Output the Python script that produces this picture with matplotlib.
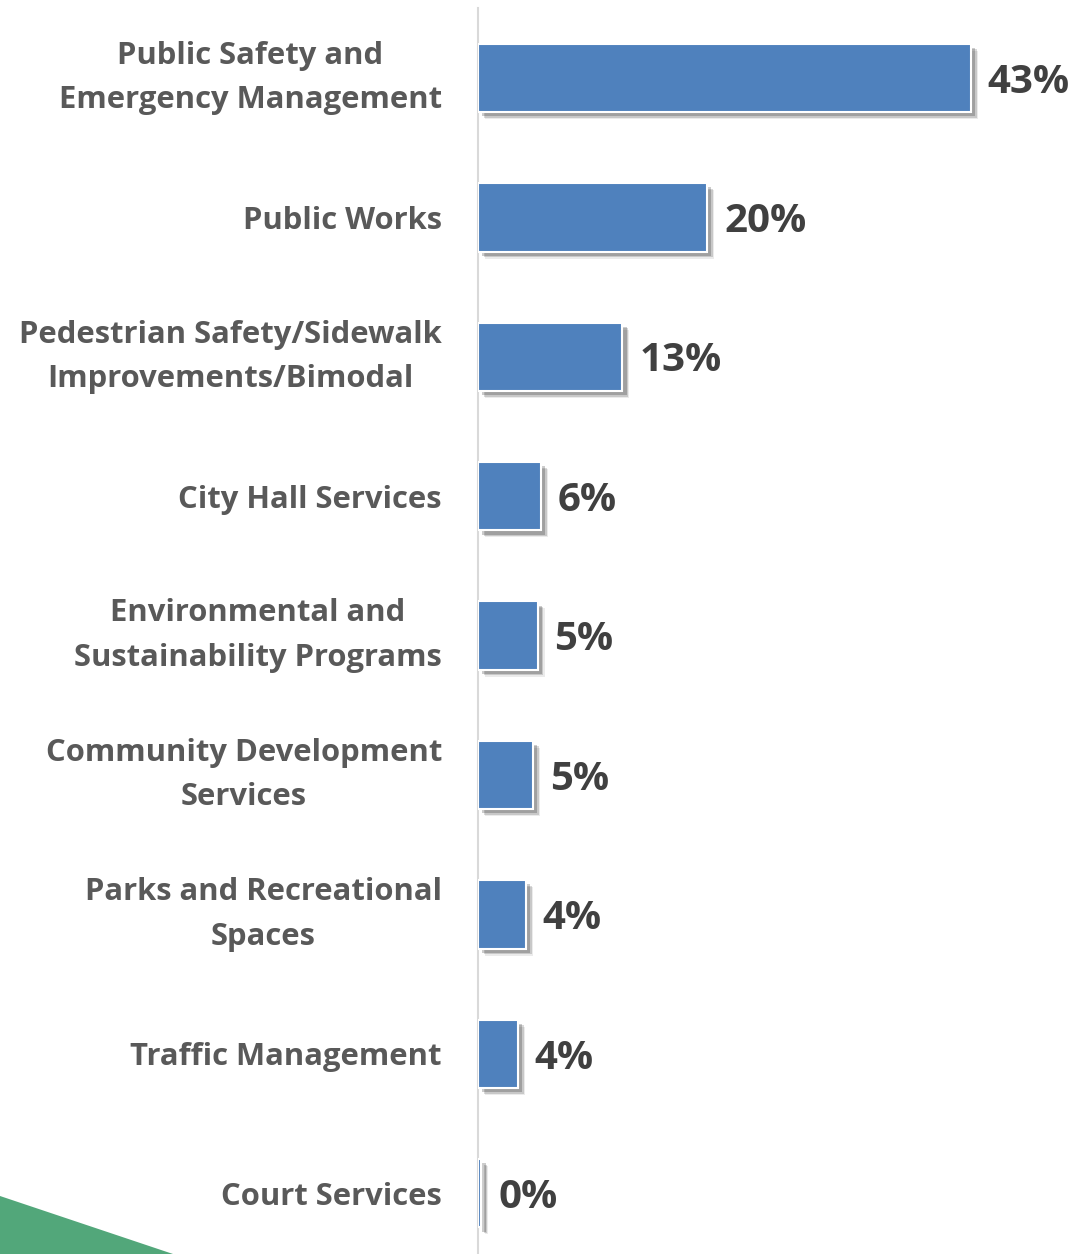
import matplotlib
matplotlib.use('Agg')
import matplotlib.pyplot as plt
import matplotlib.patheffects as pe
from matplotlib.patches import Polygon

categories = [
    "Public Safety and\nEmergency Management",
    "Public Works",
    "Pedestrian Safety/Sidewalk\nImprovements/Bimodal",
    "City Hall Services",
    "Environmental and\nSustainability Programs",
    "Community Development\nServices",
    "Parks and Recreational\nSpaces",
    "Traffic Management",
    "Court Services",
]
values = [43.0, 20.0, 12.6, 5.5, 5.2, 4.8, 4.2, 3.5, 0.3]
value_labels = ["43%", "20%", "13%", "6%", "5%", "5%", "4%", "4%", "0%"]

W, H = 1076, 1254
fig = plt.figure(figsize=(W / 100, H / 100), dpi=100)
fig.patch.set_facecolor('white')

tri = Polygon([(0, 0), (0, 1 - 1196 / H), (173 / W, 0)], closed=True,
              transform=fig.transFigure, facecolor='#52A77A', edgecolor='none')
fig.patches.append(tri)

left = 478 / W
xmax = 50
pxper = (971 - 478) / 43.0
width = xmax * pxper / W
top_px = 8.3
bot_px = 1263
ax = fig.add_axes([left, (H - bot_px) / H, width, (bot_px - top_px) / H])
ax.set_facecolor('none')

y = list(range(len(categories)))
shadow = [
    pe.SimplePatchShadow(offset=(5.0, -5.0), shadow_rgbFace='#000000', alpha=0.08),
    pe.SimplePatchShadow(offset=(4.0, -4.0), shadow_rgbFace='#000000', alpha=0.15),
    pe.SimplePatchShadow(offset=(3.0, -3.0), shadow_rgbFace='#000000', alpha=0.20),
    pe.Normal(),
]
bars = ax.barh(y, values, height=0.49, color='#4F81BD', edgecolor='white',
               linewidth=1.5, zorder=3)
for b in bars:
    b.set_path_effects(shadow)

for yi, v, lab in zip(y, values, value_labels):
    ax.annotate(lab, xy=(v, yi), xytext=(12, -3), textcoords='offset points',
                ha='left', va='center', fontsize=29, fontweight='bold',
                color='#404040', family='Open Sans')

ax.set_xlim(0, xmax)
ax.set_ylim(len(categories) - 0.5, -0.5)
ax.set_yticks(y)
ax.set_yticklabels(categories, fontsize=22.3, fontweight='bold', color='#595959',
                   family='Open Sans', linespacing=1.63)
for t in ax.get_yticklabels():
    t.set_multialignment('center')
    if '\n' in t.get_text():
        t.set_verticalalignment('center')
ax.tick_params(axis='y', length=0, pad=26)
ax.set_xticks([])
for s in ['top', 'right', 'bottom']:
    ax.spines[s].set_visible(False)
ax.spines['left'].set_color('#D9D9D9')
ax.spines['left'].set_linewidth(1.5)
ax.spines['left'].set_zorder(1)

fig.savefig('out.png', dpi=100, facecolor='white')
